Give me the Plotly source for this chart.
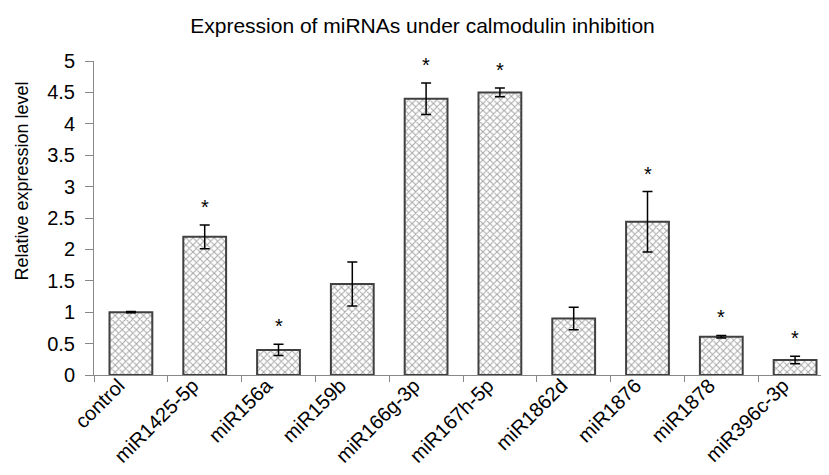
import plotly.graph_objects as go

mirnas = ['control', 'miR1425-5p', 'miR156a', 'miR159b', 'miR166g-3p',
          'miR167h-5p', 'miR1862d', 'miR1876', 'miR1878', 'miR396c-3p']
expression = [1.0, 2.2, 0.4, 1.45, 4.4, 4.5, 0.9, 2.44, 0.61, 0.24]
std_err = [0.01, 0.19, 0.09, 0.35, 0.25, 0.07, 0.18, 0.48, 0.02, 0.06]
significant = [False, True, True, False, True, True, False, True, True, True]
y_ticks = [0, 0.5, 1, 1.5, 2, 2.5, 3, 3.5, 4, 4.5, 5]

font_name = 'Liberation Sans, Arial, sans-serif'

fig = go.Figure()

fig.add_trace(go.Bar(
    x=mirnas,
    y=expression,
    error_y=dict(type='data', array=std_err, color='black', thickness=1.5, width=5),
    marker=dict(
        color='white',
        line=dict(color='#404040', width=2),
        pattern=dict(shape='x', fgcolor='#505050', bgcolor='white', size=5, solidity=0.38)
    ),
    width=0.58,
    showlegend=False
))

# asterisks above significant bars
for name, val, err, sig in zip(mirnas, expression, std_err, significant):
    if sig:
        fig.add_annotation(
            x=name, y=val + err, text='*', showarrow=False,
            yanchor='bottom', yshift=5,
            font=dict(family=font_name, size=20, color='black')
        )

# y axis title sits a bit above the plot centre, as in the original
fig.add_annotation(
    text='Relative expression level', textangle=-90,
    xref='paper', yref='paper', x=-0.098, y=0.618,
    xanchor='center', yanchor='middle', showarrow=False,
    font=dict(family=font_name, size=18, color='black')
)

fig.update_layout(
    width=829,
    height=475,
    paper_bgcolor='white',
    plot_bgcolor='white',
    margin=dict(l=86, r=5, t=53, b=108),
    title=dict(
        text='Expression of miRNAs under calmodulin inhibition',
        x=0.5, xanchor='center', y=0.962, yanchor='middle',
        font=dict(family=font_name, size=21, color='black')
    ),
    font=dict(family=font_name, color='black'),
    xaxis=dict(
        type='category',
        tickangle=-45,
        tickson='boundaries',
        ticks='outside',
        ticklen=6,
        tickcolor='#888888',
        showline=True,
        linecolor='#888888',
        linewidth=1,
        showgrid=False,
        ticklabelshift=-12,
        ticklabelstandoff=-10,
        tickfont=dict(size=20, family=font_name, color='black')
    ),
    yaxis=dict(
        range=[0, 5],
        tickvals=y_ticks,
        ticktext=[f'{t:g}' for t in y_ticks],
        ticks='outside',
        ticklen=8,
        tickcolor='#888888',
        showline=True,
        linecolor='#888888',
        linewidth=1,
        showgrid=False,
        zeroline=False,
        ticklabelstandoff=6,
        tickfont=dict(size=20, family=font_name, color='black')
    ),
    bargap=0.42
)

fig.write_html("out.html")
